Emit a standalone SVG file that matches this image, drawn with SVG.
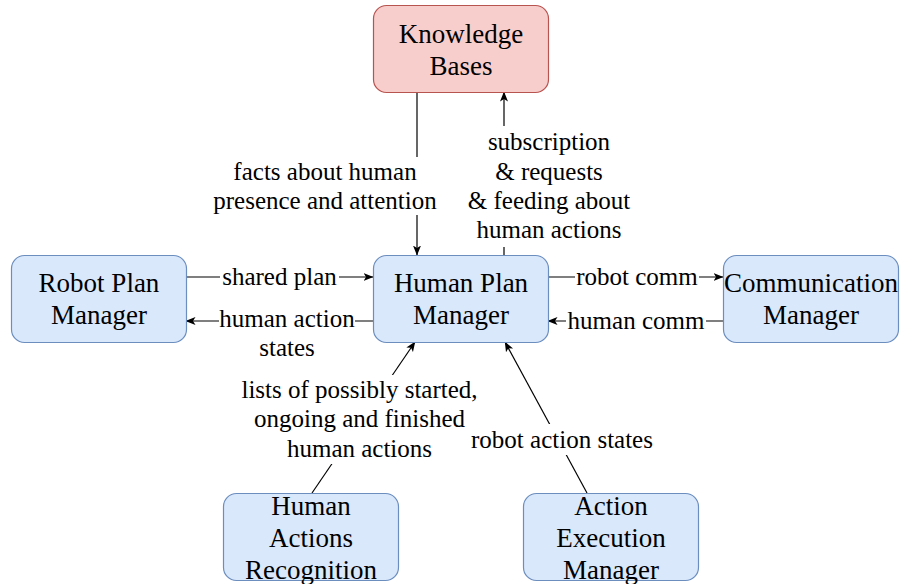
<svg xmlns="http://www.w3.org/2000/svg" width="900" height="584" viewBox="0 0 900 584">
<defs>
<marker id="arr" viewBox="0 0 10 10" refX="9.5" refY="5" markerWidth="10" markerHeight="10" markerUnits="userSpaceOnUse" orient="auto">
<path d="M0,1 L10,5 L0,9 L2.5,5 z" fill="#000"/>
</marker>
<style>
.node-b{fill:#dae8fc;stroke:#6c8ebf;stroke-width:1.2}
.node-r{fill:#f8cecc;stroke:#b85450;stroke-width:1.2}
.nt{font-family:"Liberation Serif","Times New Roman",serif;font-size:27px;fill:#000;text-anchor:middle}
.el{font-family:"Liberation Serif","Times New Roman",serif;font-size:25px;fill:#000;text-anchor:middle}
.ln{stroke:#000;stroke-width:1.2;fill:none}
.bg{fill:#fff}
</style>
</defs>
<rect width="900" height="584" fill="#fff"/>
<g id="connectors">
<line class="ln" x1="417" y1="92" x2="417" y2="255" marker-end="url(#arr)"/>
<line class="ln" x1="504" y1="255" x2="504" y2="92" marker-end="url(#arr)"/>
<line class="ln" x1="186" y1="277" x2="373" y2="277" marker-end="url(#arr)"/>
<line class="ln" x1="373" y1="321" x2="186" y2="321" marker-end="url(#arr)"/>
<line class="ln" x1="548" y1="277" x2="723" y2="277" marker-end="url(#arr)"/>
<line class="ln" x1="723" y1="321" x2="548" y2="321" marker-end="url(#arr)"/>
<line class="ln" x1="312" y1="493" x2="415" y2="342" marker-end="url(#arr)"/>
<line class="ln" x1="587" y1="493" x2="505" y2="342" marker-end="url(#arr)"/>
<rect class="bg" x="213" y="157" width="224" height="58"/>
<text class="el" x="325" y="180">facts about human</text>
<text class="el" x="325" y="209">presence and attention</text>
<rect class="bg" x="467" y="126" width="164" height="121"/>
<text class="el" x="549" y="150">subscription</text>
<text class="el" x="549" y="180">&amp; requests</text>
<text class="el" x="549" y="209">&amp; feeding about</text>
<text class="el" x="549" y="238">human actions</text>
<rect class="bg" x="220" y="265" width="119" height="26"/>
<text class="el" x="279.5" y="285">shared plan</text>
<rect class="bg" x="219" y="309" width="136" height="26"/>
<text class="el" x="287" y="327">human action</text>
<text class="el" x="287" y="356">states</text>
<rect class="bg" x="575" y="265" width="124" height="26"/>
<text class="el" x="637" y="285">robot comm</text>
<rect class="bg" x="566" y="309" width="140" height="26"/>
<text class="el" x="636" y="329">human comm</text>
<rect class="bg" x="242" y="375" width="236" height="89"/>
<text class="el" x="359.5" y="398">lists of possibly started,</text>
<text class="el" x="359.5" y="427">ongoing and finished</text>
<text class="el" x="359.5" y="457">human actions</text>
<rect class="bg" x="471" y="424" width="182" height="31"/>
<text class="el" x="562" y="448">robot action states</text>
</g>
<g id="knowledge-bases">
<rect class="node-r" x="373.5" y="5.5" width="175" height="87" rx="13"/>
<text class="nt" x="461" y="43">Knowledge</text>
<text class="nt" x="461" y="75">Bases</text>
</g>
<g id="human-plan-manager">
<rect class="node-b" x="373.5" y="255.5" width="175" height="87" rx="13"/>
<text class="nt" x="461" y="292">Human Plan</text>
<text class="nt" x="461" y="324">Manager</text>
</g>
<g id="robot-plan-manager">
<rect class="node-b" x="11.5" y="255.5" width="175" height="87" rx="13"/>
<text class="nt" x="99" y="292">Robot Plan</text>
<text class="nt" x="99" y="324">Manager</text>
</g>
<g id="communication-manager">
<rect class="node-b" x="723.5" y="255.5" width="175" height="87" rx="13"/>
<text class="nt" x="811" y="292">Communication</text>
<text class="nt" x="811" y="324">Manager</text>
</g>
<g id="human-actions-recognition">
<rect class="node-b" x="223.5" y="493.5" width="175" height="87" rx="13"/>
<text class="nt" x="311" y="515">Human</text>
<text class="nt" x="311" y="547">Actions</text>
<text class="nt" x="311" y="579">Recognition</text>
</g>
<g id="action-execution-manager">
<rect class="node-b" x="523.5" y="493.5" width="175" height="87" rx="13"/>
<text class="nt" x="611" y="515">Action</text>
<text class="nt" x="611" y="547">Execution</text>
<text class="nt" x="611" y="579">Manager</text>
</g>
</svg>
